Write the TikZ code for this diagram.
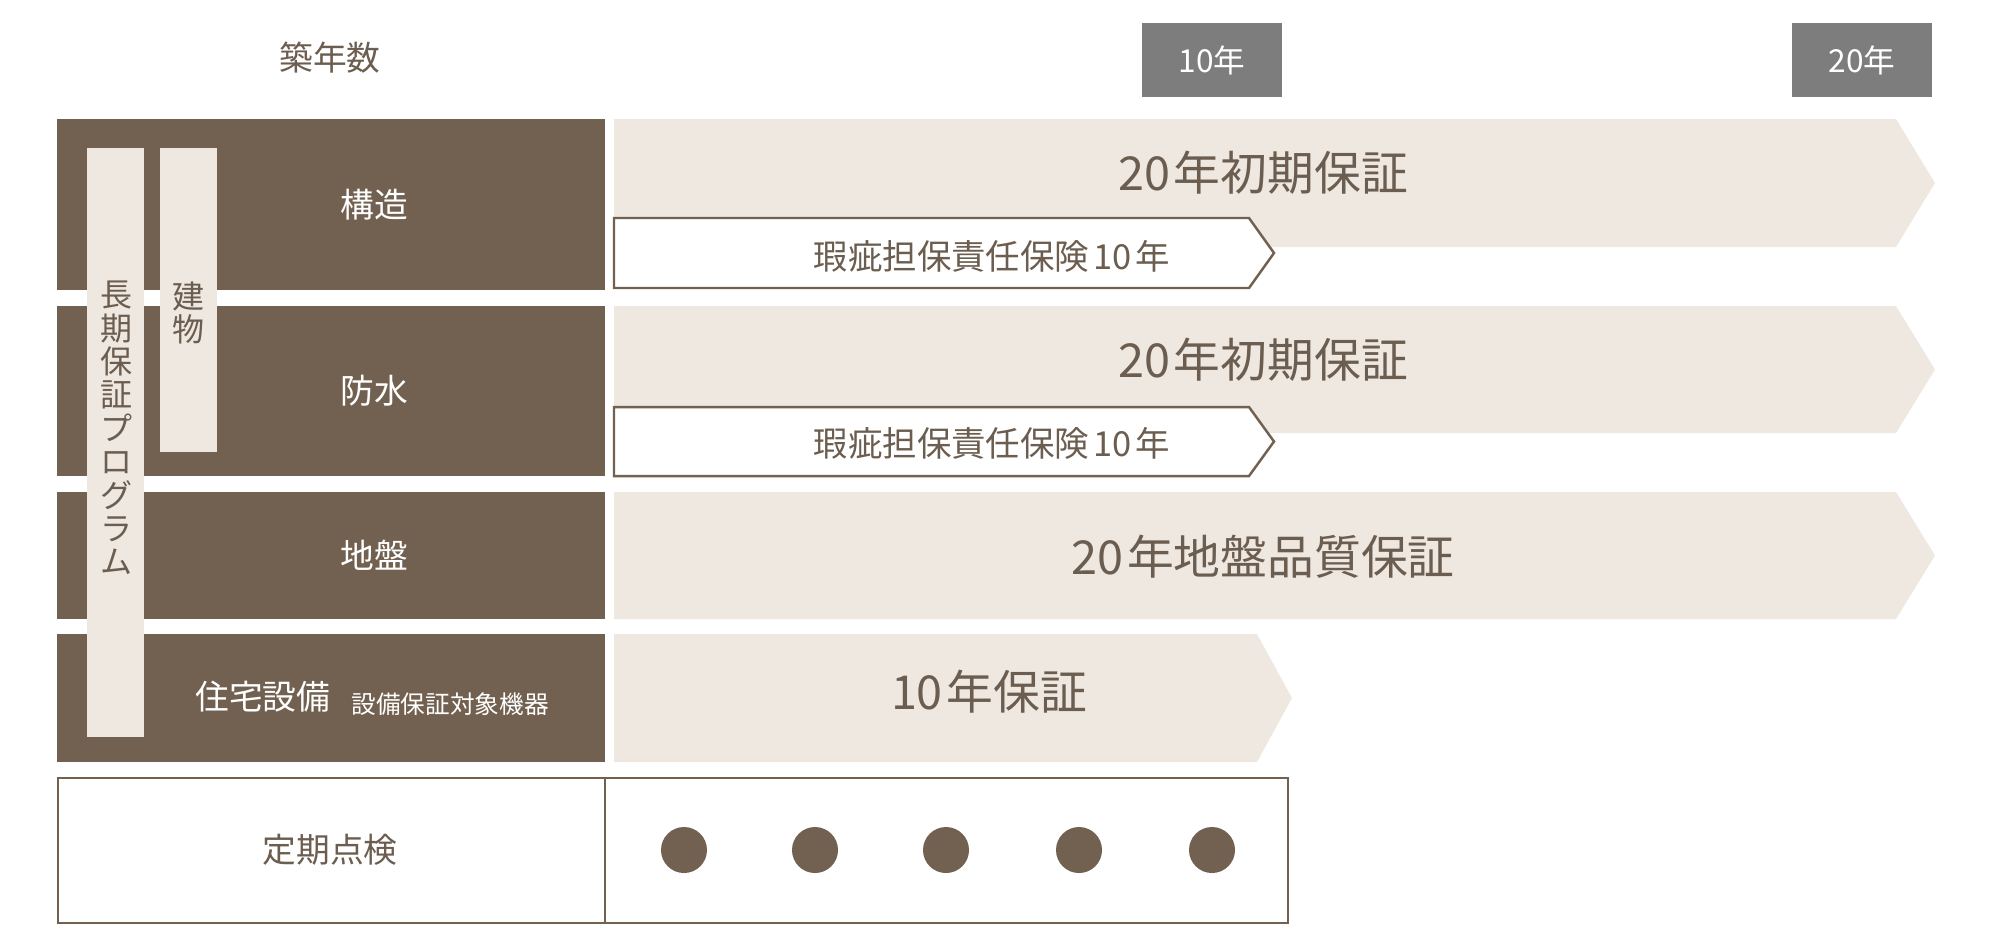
\documentclass[tikz,border=0pt]{standalone}
\usepackage{fontspec}
\setmainfont{Noto Sans CJK JP}
\usepackage{tikz}
\usetikzlibrary{positioning}

\definecolor{darkbrown}{HTML}{726150}
\definecolor{lightbeige}{HTML}{EEE8E1}
\definecolor{yeargray}{HTML}{7D7D7D}
\definecolor{textbrown}{HTML}{6B5D4F}

\begin{document}
\begin{tikzpicture}
	[
	x=0.01cm, y=-0.01cm,
	align=center,
	node/.style={inner sep=0pt},
	head/.style={node, text=white, font=\fontsize{9.6}{11}\selectfont},
	note/.style={node, text=white, font=\fontsize{7}{8}\selectfont},
	big/.style={node, text=textbrown, font=\fontsize{13.3}{15}\selectfont},
	small/.style={node, text=textbrown, font=\fontsize{9.8}{11}\selectfont},
	vert/.style={node, text=textbrown, font=\fontsize{9.1}{9.5}\selectfont},
	yearbox/.style={node, fill=yeargray, text=white, minimum width=1.39cm, minimum height=0.74cm, font=\fontsize{9}{11}\selectfont},
	frame/.style={draw=darkbrown, line width=0.7pt},
	]
		\useasboundingbox (0,0) rectangle (2000,944);
		
		% years
		\node[node, text=textbrown, font=\fontsize{9.6}{11}\selectfont] (year) at (330, 58) {築年数};
		\node[yearbox] (y10) at (1212, 60) {10年};
		\node[yearbox] (y20) at (1862, 60) {20年};
		
		% left-hand side
		\foreach \top/\bot in {119/290,306/476,492/619,634/762}
			\fill[darkbrown] (57,\top) rectangle (605,\bot);
		\fill[lightbeige] (87,148) rectangle (144,737);
		\fill[lightbeige] (160,148) rectangle (217,452);
		\node[vert] (longterm) at (116, 428) {長\\期\\保\\証\\プ\\ロ\\グ\\ラ\\ム};
		\node[vert] (building) at (188, 313) {建\\物};
		
		\node[head] (structure) at (374, 205) {構造};
		\node[head] (waterproof) at (374, 391) {防水};
		\node[head] (ground) at (374, 555) {地盤};
		\node[head, anchor=base east] (equip) at (331, 709) {住宅設備};
		\node[note, anchor=base west] (equipnote) at (351, 713) {設備保証対象機器};
		
		% right-hand side
		\foreach \top/\bot in {119/247,306/433,492/619}
			\fill[lightbeige] (614,\top) -- (1896,\top) -- (1935,{(\top+\bot)/2}) -- (1896,\bot) -- (614,\bot) -- cycle;
		\fill[lightbeige] (614,634) -- (1257,634) -- (1292,698) -- (1257,762) -- (614,762) -- cycle;
		\foreach \top/\bot in {218/288,407/476}
			\draw[frame, fill=white] (614,\top) -- (1249,\top) -- (1274,{(\top+\bot)/2}) -- (1249,\bot) -- (614,\bot) -- cycle;
		
		\node[big] (w1) at (1263, 173) {20\hspace{0.08em}年初期保証};
		\node[small] (ins1) at (992, 256) {瑕疵担保責任保険\hspace{0.12em}10\hspace{0.12em}年};
		\node[big] (w2) at (1263, 360) {20\hspace{0.08em}年初期保証};
		\node[small] (ins2) at (992, 443) {瑕疵担保責任保険\hspace{0.12em}10\hspace{0.12em}年};
		\node[big] (gw) at (1263, 557) {20\hspace{0.08em}年地盤品質保証};
		\node[big] (ew) at (989, 692) {10\hspace{0.08em}年保証};
		
		% inspection
		\draw[frame] (58,778) rectangle (1288,923);
		\draw[frame] (605,778) -- (605,923);
		\node[node, text=textbrown, font=\fontsize{9.6}{11}\selectfont] (inspect) at (330, 850) {定期点検};
		\foreach \x in {684,815,946,1079,1212} \fill[darkbrown] (\x,850) circle[radius=0.23cm];
		
	\end{tikzpicture}
\end{document}
